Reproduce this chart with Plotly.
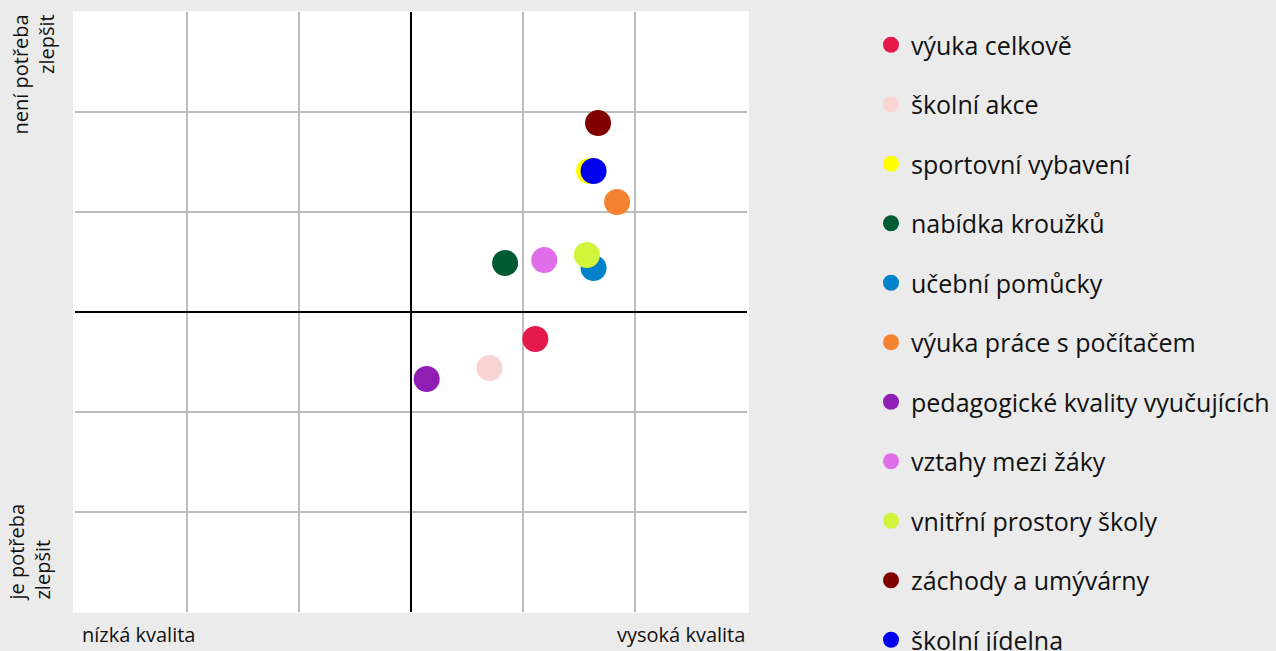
import plotly.graph_objects as go

categories = ["výuka celkově", "školní akce", "sportovní vybavení", "nabídka kroužků",
              "učební pomůcky", "výuka práce s počítačem", "pedagogické kvality vyučujících",
              "vztahy mezi žáky", "vnitřní prostory školy", "záchody a umývárny", "školní jídelna"]
quality = [1.11, 0.70, 1.59, 0.84, 1.63, 1.84, 0.14, 1.19, 1.57, 1.67, 1.63]
need = [-0.27, -0.56, 1.41, 0.49, 0.44, 1.10, -0.67, 0.52, 0.57, 1.89, 1.41]
colors = ["#e6194b", "#fad4d2", "#ffff00", "#005a32", "#0082c8", "#f58231", "#911eb4",
          "#e06ee8", "#d2f53c", "#800000", "#0000f0"]

FONT = "Open Sans, Noto Sans, sans-serif"
W, H = 1276, 651
ml, mr, mt, mb = 75, W - 747, 12, 39
pw, ph = W - ml - mr, H - mt - mb

fig = go.Figure()
for i, (c, x, y, col) in enumerate(zip(categories, quality, need, colors)):
    fig.add_trace(go.Scatter(x=[x], y=[y], mode="markers", name=c, legendgroup=str(i),
                             marker=dict(size=26, color=col, line=dict(width=0))))

def px_x(p):
    return (p - ml) / pw

def px_y(p):
    return 1 - (p - mt) / ph

LBL = dict(size=20, color="#111")
annotations = [
    dict(text="nízká kvalita", xref="paper", yref="paper", x=px_x(80), y=px_y(634),
         xanchor="left", yanchor="middle", showarrow=False, font=LBL),
    dict(text="vysoká kvalita", xref="paper", yref="paper", x=px_x(747), y=px_y(634),
         xanchor="right", yanchor="middle", showarrow=False, font=LBL),
    dict(text="není potřeba<br>zlepšit", xref="paper", yref="paper", x=px_x(61), y=px_y(13),
         xanchor="right", yanchor="top", textangle=-90, align="right", showarrow=False,
         font=LBL),
    dict(text="je potřeba<br>zlepšit", xref="paper", yref="paper", x=px_x(57), y=px_y(603),
         xanchor="right", yanchor="bottom", textangle=-90, align="left", showarrow=False,
         font=LBL),
]

axis_common = dict(range=[-3, 3], tickvals=[-2, -1, 0, 1, 2], showticklabels=False,
                   ticks="", showgrid=True, gridcolor="#bdbdbd", gridwidth=2,
                   zeroline=True, zerolinecolor="#000000", zerolinewidth=2,
                   showline=False, fixedrange=True)

fig.update_layout(
    width=W, height=H,
    margin=dict(l=ml, r=mr, t=mt, b=mb, autoexpand=False),
    paper_bgcolor="#ebebeb", plot_bgcolor="#ffffff",
    font=dict(family=FONT, color="#111"),
    xaxis=axis_common, yaxis=axis_common,
    annotations=annotations,
    shapes=[dict(type="rect", xref="paper", yref="paper", x0=-2 / pw, x1=1 + 2 / pw,
                 y0=-1 / ph, y1=1 + 1 / ph, fillcolor="#ffffff", line=dict(width=0),
                 layer="below")],
    showlegend=True,
    legend=dict(x=px_x(871), xanchor="left", y=px_y(22), yanchor="top",
                font=dict(size=25, family=FONT, color="#111"),
                bgcolor="rgba(0,0,0,0)", tracegroupgap=24, itemsizing="trace",
                maxheight=2000),
)

fig.write_html("out.html", config={"displayModeBar": False}, post_script=(
    "document.body.style.margin='0';document.body.style.padding='0';"
    "document.body.style.overflow='hidden';document.body.style.background='#ebebeb';"))
